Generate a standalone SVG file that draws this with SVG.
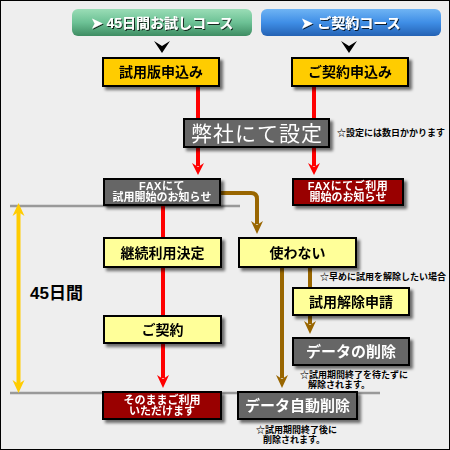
<svg xmlns="http://www.w3.org/2000/svg" width="450" height="450" viewBox="0 0 450 450">
<defs>
<linearGradient id="gGreen" x1="0" y1="0" x2="0" y2="1">
<stop offset="0" stop-color="#9ADDB6"/><stop offset="0.5" stop-color="#6CC195"/><stop offset="1" stop-color="#3E8C62"/>
</linearGradient>
<linearGradient id="gBlue" x1="0" y1="0" x2="0" y2="1">
<stop offset="0" stop-color="#6FB4F4"/><stop offset="0.5" stop-color="#3F8EE6"/><stop offset="1" stop-color="#2462B4"/>
</linearGradient>
<filter id="sh" x="-10%" y="-20%" width="130%" height="160%">
<feDropShadow dx="3" dy="3" stdDeviation="1.5" flood-color="#000" flood-opacity="0.55"/>
</filter>
<filter id="tsh" x="-10%" y="-20%" width="130%" height="160%">
<feDropShadow dx="1" dy="1" stdDeviation="0.6" flood-color="#000" flood-opacity="0.8"/>
</filter>
<style>
.t{font-family:"Liberation Sans","Noto Sans CJK JP",sans-serif;font-weight:bold;text-anchor:middle}
.big{font-weight:normal}
.n{font-family:"Liberation Sans","Noto Sans CJK JP",sans-serif;font-weight:bold;font-size:9px;fill:#000}
.box{stroke:#000;stroke-width:2}
.y1{fill:#FFCC00}.y2{fill:#FFFF99}.gr{fill:#666666}.dr{fill:#990000}
.red{stroke:#FF0000;stroke-width:4;fill:none}
.brn{stroke:#996600;stroke-width:4;fill:none}
.gl{stroke:#999999;stroke-width:2.5;fill:none}
</style>
</defs>
<rect x="0.5" y="0.5" width="449" height="449" fill="#EEEEEE" stroke="#000" stroke-width="1"/>

<g id="guides">
<line class="gl" x1="10" y1="206" x2="240" y2="206"/>
<line class="gl" x1="10" y1="393" x2="380" y2="393"/>
</g>

<g id="connectors">
<line class="red" x1="198" y1="86" x2="198" y2="166"/>
<polygon points="192,163 198,167 204,163 198,175" fill="#FF0000"/>
<line class="red" x1="314" y1="86" x2="314" y2="166"/>
<polygon points="308,163 314,167 320,163 314,175" fill="#FF0000"/>
<line class="red" x1="163" y1="205" x2="163" y2="378"/>
<polygon points="157,375 163,379 169,375 163,388" fill="#FF0000"/>
<path class="brn" d="M220,193 H251 Q257,193 257,199 V224"/>
<polygon points="251,221 257,225 263,221 257,234" fill="#996600"/>
<line class="brn" x1="282" y1="267" x2="282" y2="378"/>
<polygon points="276,375 282,379 288,375 282,388" fill="#996600"/>
<line class="brn" x1="310" y1="267" x2="310" y2="288"/>
<line class="brn" x1="310" y1="315" x2="310" y2="324"/>
<polygon points="304,321 310,325 316,321 310,334" fill="#996600"/>
<line stroke="#FFCC00" stroke-width="4" x1="18.5" y1="212" x2="18.5" y2="384"/>
<polygon points="12.5,216 18.5,212 24.5,216 18.5,203" fill="#FFCC00"/>
<polygon points="12.5,380 18.5,384 24.5,380 18.5,393" fill="#FFCC00"/>
<polygon points="154,41 162,46 170,41 162,53" fill="#000"/>
<polygon points="341,41 349,46 357,41 349,53" fill="#000"/>
</g>

<g id="hdr-trial">
<rect x="72" y="9" width="180" height="27" rx="6" fill="url(#gGreen)"/>
<text class="t" x="162" y="28" font-size="14" fill="#fff" filter="url(#tsh)">➤ 45日間お試しコース</text>
</g>
<g id="hdr-contract">
<rect x="261" y="9" width="180" height="27" rx="6" fill="url(#gBlue)"/>
<text class="t" x="351" y="28" font-size="14" fill="#fff" filter="url(#tsh)">➤ ご契約コース</text>
</g>

<g id="n-trial-apply" filter="url(#sh)">
<rect class="box y1" x="103" y="58" width="116" height="28"/>
<text class="t" x="161" y="77" font-size="14" fill="#000">試用版申込み</text>
</g>
<g id="n-contract-apply" filter="url(#sh)">
<rect class="box y1" x="292" y="58" width="116" height="28"/>
<text class="t" x="350" y="77" font-size="14" fill="#000">ご契約申込み</text>
</g>

<g id="n-setup" filter="url(#sh)">
<rect class="box gr" x="184" y="119" width="145" height="28"/>
<text class="t big" x="257" y="141" font-size="21" fill="#fff" letter-spacing="1">弊社にて設定</text>
</g>
<text class="n" x="337" y="136">☆設定には数日かかります</text>

<g id="n-fax-trial" filter="url(#sh)">
<rect class="box gr" x="104" y="179" width="116" height="26"/>
<text class="t" x="162" y="190" font-size="11" fill="#fff" letter-spacing="0.5">FAXにて</text>
<text class="t" x="162" y="201" font-size="11" fill="#fff">試用開始のお知らせ</text>
</g>
<g id="n-fax-contract" filter="url(#sh)">
<rect class="box dr" x="293" y="179" width="110" height="26"/>
<text class="t" x="348" y="190" font-size="11" fill="#fff" letter-spacing="0.5">FAXにてご利用</text>
<text class="t" x="348" y="201" font-size="11" fill="#fff">開始のお知らせ</text>
</g>

<g id="n-continue" filter="url(#sh)">
<rect class="box y2" x="104" y="238" width="117" height="29"/>
<text class="t" x="162.5" y="258" font-size="14" fill="#000">継続利用決定</text>
</g>
<g id="n-unused" filter="url(#sh)">
<rect class="box y2" x="239" y="238" width="117" height="29"/>
<text class="t" x="297.5" y="258" font-size="14" fill="#000">使わない</text>
</g>

<text class="n" x="320" y="280">☆早めに試用を解除したい場合</text>
<text x="30" y="299" font-family="Liberation Sans,Noto Sans CJK JP,sans-serif" font-weight="bold" font-size="17" fill="#000">45日間</text>

<g id="n-cancel-req" filter="url(#sh)">
<rect class="box y2" x="293" y="288" width="116" height="27"/>
<text class="t" x="351" y="307" font-size="14" fill="#000">試用解除申請</text>
</g>
<g id="n-contract" filter="url(#sh)">
<rect class="box y2" x="104" y="316" width="117" height="27"/>
<text class="t" x="162.5" y="335" font-size="14" fill="#000">ご契約</text>
</g>
<g id="n-data-del" filter="url(#sh)">
<rect class="box gr" x="293" y="338" width="116" height="27"/>
<text class="t" x="351" y="357" font-size="15" fill="#fff">データの削除</text>
</g>

<text class="n" x="300" y="378" font-size="8.5">☆試用期間終了を待たずに</text>
<text class="n" x="308" y="388" font-size="8.5">解除されます。</text>

<g id="n-continue-use" filter="url(#sh)">
<rect class="box dr" x="103" y="392" width="118" height="27"/>
<text class="t" x="162" y="404" font-size="11" fill="#fff">そのままご利用</text>
<text class="t" x="162" y="415" font-size="11" fill="#fff">いただけます</text>
</g>
<g id="n-auto-del" filter="url(#sh)">
<rect class="box gr" x="238" y="392" width="119" height="27"/>
<text class="t" x="297.5" y="411" font-size="15" fill="#fff">データ自動削除</text>
</g>

<text class="n" x="256" y="433">☆試用期間終了後に</text>
<text class="n" x="263" y="443">削除されます。</text>
</svg>
